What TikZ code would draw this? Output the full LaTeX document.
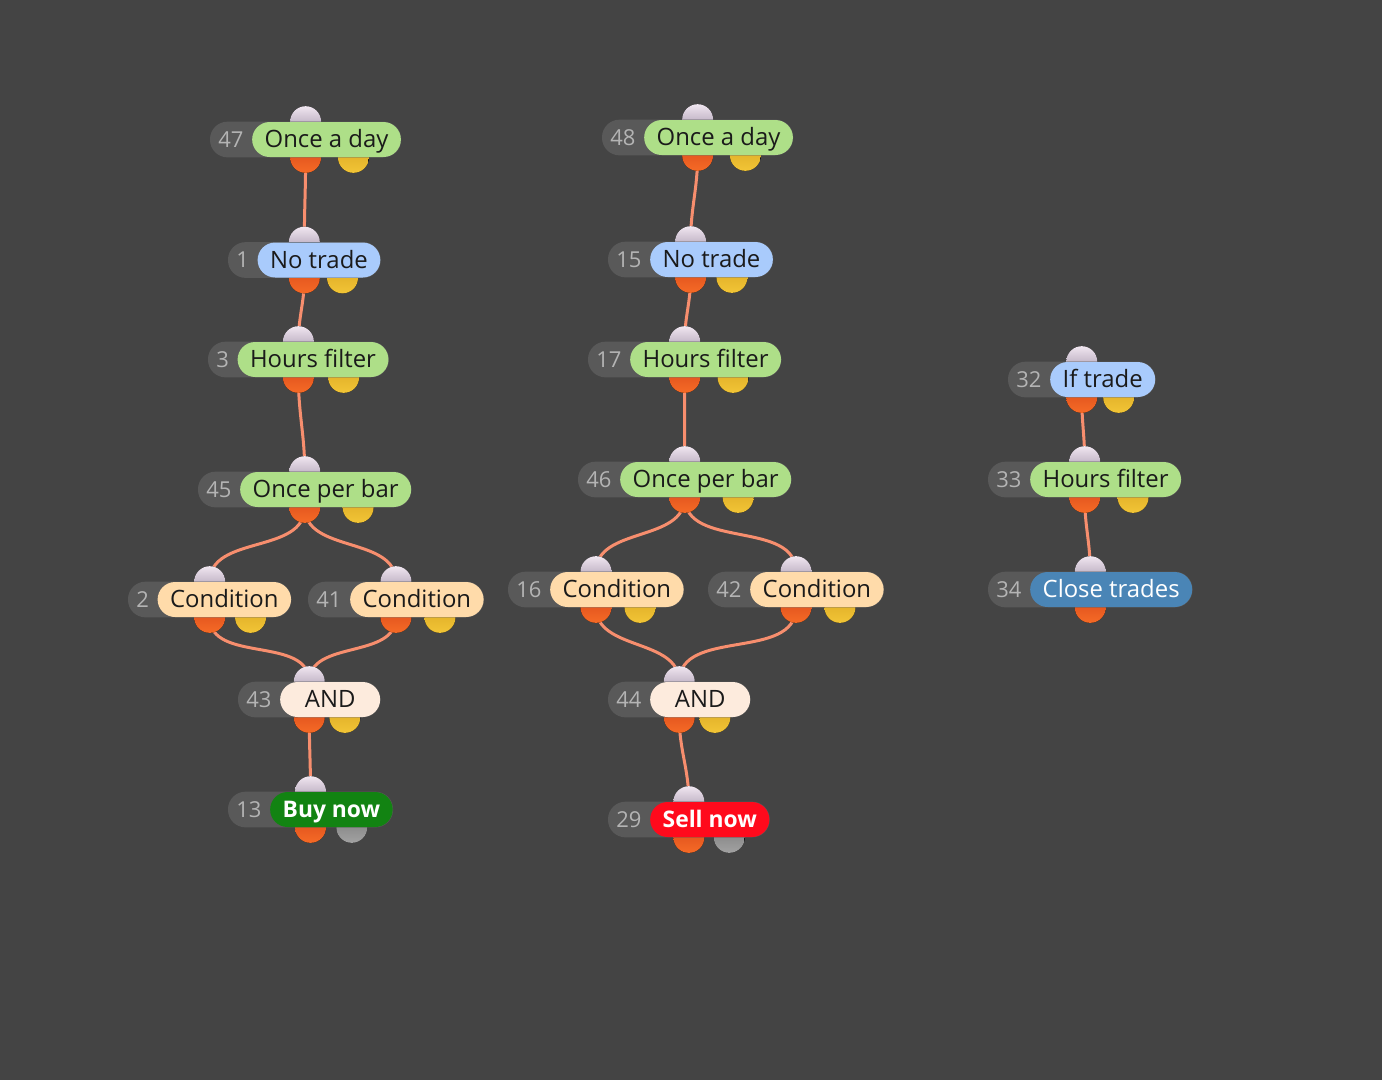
\documentclass[tikz,border=0pt]{standalone}
\usepackage{fontspec}
\setmainfont{Open Sans}
\usetikzlibrary{calc}

\pgfdeclarelayer{bg}
\pgfdeclarelayer{edges}
\pgfdeclarelayer{ports}
\pgfdeclarelayer{base}
\pgfsetlayers{bg,edges,ports,base,main}

\definecolor{bgdark}{HTML}{444444}
\definecolor{numfill}{HTML}{595959}
\definecolor{numgrey}{HTML}{B4B4B4}
\definecolor{textdark}{HTML}{1A1A1A}
\definecolor{pillgreen}{HTML}{AEDF88}
\definecolor{pillblue}{HTML}{A9CBFC}
\definecolor{pillpeach}{HTML}{FFDBAA}
\definecolor{pilland}{HTML}{FDEBDD}
\definecolor{pillbuy}{HTML}{128312}
\definecolor{pillsell}{HTML}{FF0A1C}
\definecolor{pillclose}{HTML}{4A85B6}
\definecolor{wirecol}{HTML}{F78E6E}
\definecolor{inporttop}{HTML}{F0E6F0}
\definecolor{inportbot}{HTML}{9C8CA4}
\definecolor{outporttop}{HTML}{D9491A}
\definecolor{outportbot}{HTML}{F56A26}
\definecolor{yelporttop}{HTML}{D9A522}
\definecolor{yelportbot}{HTML}{F2C536}
\definecolor{greyporttop}{HTML}{7A7A7A}
\definecolor{greyportbot}{HTML}{A2A2A2}

\tikzset{
  numtext/.style={anchor=west, inner xsep=0.16cm, inner ysep=0pt,
    text=numgrey, font=\fontsize{12.5}{15}\selectfont},
  pill/.style={anchor=west, rounded corners=0.35cm, minimum height=0.7cm,
    minimum width=2cm, inner xsep=0.25cm, inner ysep=0pt,
    text height=9.6pt, text depth=0pt,
    font=\fontsize{13.6}{16}\selectfont, text=textdark},
  greenpill/.style={pill, fill=pillgreen},
  bluepill/.style={pill, fill=pillblue},
  condpill/.style={pill, fill=pillpeach},
  andpill/.style={pill, fill=pilland},
  buypill/.style={pill, fill=pillbuy, text=white, font=\fontsize{13}{16}\selectfont\bfseries},
  sellpill/.style={pill, fill=pillsell, text=white, font=\fontsize{13}{16}\selectfont\bfseries},
  closepill/.style={pill, fill=pillclose, text=white},
  inport/.style={top color=inporttop, bottom color=inportbot},
  outport/.style={top color=outporttop, bottom color=outportbot},
  yellowport/.style={top color=yelporttop, bottom color=yelportbot},
  greyport/.style={top color=greyporttop, bottom color=greyportbot},
  wire/.style={wirecol, line width=0.06cm, line cap=round},
}

% one block: id, number, label, pill style, position of left end
\newcommand\block[5]{%
  \node[numtext] (n#1) at #5 {#2};
  \node[#4] (b#1) at (n#1.east) {#3};
  \coordinate (m#1) at ($(n#1.west)!0.5!(b#1.east)$);
  \coordinate (q#1) at ($(n#1.west)!0.75!(b#1.east)$);
  \coordinate (in#1) at (m#1 |- b#1.north);
  \coordinate (out#1) at (m#1 |- b#1.south);
  \coordinate (aux#1) at (q#1 |- b#1.south);
  \begin{pgfonlayer}{base}
    \fill[numfill, rounded corners=0.35cm] (n#1.west |- b#1.north) rectangle (b#1.south east);
  \end{pgfonlayer}
  \begin{pgfonlayer}{ports}
    \fill[inport] (in#1) circle (0.31cm);
    \fill[outport] (out#1) circle (0.31cm);
  \end{pgfonlayer}
}
\newcommand\auxport[2]{%
  \begin{pgfonlayer}{ports}
    \fill[#2] (aux#1) circle (0.31cm);
  \end{pgfonlayer}
}

\begin{document}
\begin{tikzpicture}[x=0.02cm, y=-0.02cm]

\begin{pgfonlayer}{bg}
  \fill[bgdark] (0,0) rectangle (1382,1080);
\end{pgfonlayer}
\useasboundingbox (0,0) rectangle (1382,1080);

% left column
\block{47}{47}{Once a day}{greenpill}{(210,139.5)}
\block{1}{1}{No trade}{bluepill}{(228,260)}
\block{3}{3}{Hours filter}{greenpill}{(208,359.5)}
\block{45}{45}{Once per bar}{greenpill}{(198,489.5)}
\block{2}{2}{Condition}{condpill}{(128,599.5)}
\block{41}{41}{Condition}{condpill}{(308,599.5)}
\block{43}{43}{AND}{andpill}{(238,699.5)}
\block{13}{13}{Buy now}{buypill}{(228,809.5)}

% middle column
\block{48}{48}{Once a day}{greenpill}{(602,137.5)}
\block{15}{15}{No trade}{bluepill}{(608,259.5)}
\block{17}{17}{Hours filter}{greenpill}{(588,359.5)}
\block{46}{46}{Once per bar}{greenpill}{(578,479.5)}
\block{16}{16}{Condition}{condpill}{(508,589.5)}
\block{42}{42}{Condition}{condpill}{(708,589.5)}
\block{44}{44}{AND}{andpill}{(608,699.5)}
\block{29}{29}{Sell now}{sellpill}{(608,819.5)}

% right column
\block{32}{32}{If trade}{bluepill}{(1008,379.5)}
\block{33}{33}{Hours filter}{greenpill}{(988,479.5)}
\block{34}{34}{Close trades}{closepill}{(988,589.5)}

\foreach \id in {47,1,3,45,2,41,43,48,15,17,46,16,42,44,32,33}
  {\auxport{\id}{yellowport}}
\auxport{13}{greyport}
\auxport{29}{greyport}

\begin{pgfonlayer}{edges}
\foreach \a/\b in {47/1,1/3,3/45,45/2,45/41,2/43,41/43,43/13,
                   48/15,15/17,17/46,46/16,46/42,16/44,42/44,44/29,
                   32/33,33/34}
  \draw[wire] (out\a) to[out=-90, in=90] (in\b);
\end{pgfonlayer}

\end{tikzpicture}
\end{document}
